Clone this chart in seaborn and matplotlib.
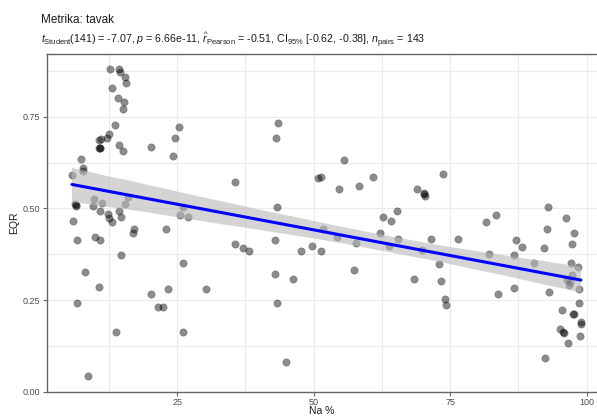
"""
plot.py

Scatter of EQR against Na % with linear fit and 95% band (ggstatsplot look)
"""

import numpy as np
import pandas as pd
import seaborn as sns
import matplotlib.pyplot as plt
from matplotlib.collections import PolyCollection
from matplotlib.ticker import MultipleLocator


# DATA
na_pct = [
    12.75, 14.34, 14.47, 15.44, 15.68, 13.06, 14.21, 15.31, 15.02, 13.61,
    12.51, 12.20, 10.99, 10.68, 10.68, 10.86, 14.34, 15.02, 20.20, 25.27,
    24.60, 24.29, 7.44, 7.75, 7.80, 5.73, 9.76, 9.63, 11.28, 6.28,
    6.47, 15.49, 15.93, 10.86, 12.33, 14.34, 14.65, 12.45, 13.11, 5.97,
    25.51, 27.03, 26.12, 17.09, 16.90, 22.89, 6.70, 10.00, 10.86, 14.76,
    8.11, 10.62, 6.70, 20.26, 23.32, 21.43, 22.45, 26.06, 30.22, 13.74,
    26.06, 8.66, 43.52, 43.10, 35.64, 43.22, 55.49, 50.84, 51.39, 54.58,
    58.30, 60.81, 62.69, 64.21, 65.31, 51.65, 35.53, 37.00, 38.10, 42.86,
    42.86, 46.21, 43.33, 44.98, 47.67, 49.63, 51.28, 54.21, 57.80, 57.33,
    62.09, 63.85, 65.44, 73.68, 68.97, 70.26, 70.38, 92.91, 96.15, 83.33,
    81.61, 92.73, 71.54, 76.48, 69.89, 73.00, 68.37, 73.32, 74.10, 74.18,
    82.11, 83.70, 87.05, 88.15, 86.74, 86.74, 90.35, 92.18, 97.67, 97.31,
    97.18, 98.41, 97.25, 96.94, 96.76, 96.39, 98.64, 93.15, 98.53, 95.53,
    97.55, 97.73, 98.90, 98.96, 95.05, 95.60, 95.84, 98.72, 96.52, 92.36,
    10.80, 6.40, 70.30,
]
eqr = [
    0.881, 0.881, 0.872, 0.857, 0.841, 0.827, 0.801, 0.791, 0.771, 0.727,
    0.702, 0.691, 0.688, 0.686, 0.665, 0.665, 0.672, 0.656, 0.666, 0.722,
    0.692, 0.642, 0.635, 0.611, 0.602, 0.592, 0.526, 0.507, 0.516, 0.512,
    0.507, 0.512, 0.532, 0.493, 0.486, 0.493, 0.477, 0.473, 0.463, 0.466,
    0.483, 0.477, 0.504, 0.444, 0.432, 0.444, 0.413, 0.423, 0.413, 0.373,
    0.327, 0.286, 0.241, 0.267, 0.281, 0.231, 0.231, 0.351, 0.281, 0.162,
    0.162, 0.043, 0.732, 0.692, 0.572, 0.503, 0.632, 0.583, 0.585, 0.553,
    0.562, 0.586, 0.477, 0.466, 0.493, 0.445, 0.403, 0.393, 0.383, 0.413,
    0.322, 0.307, 0.241, 0.082, 0.383, 0.397, 0.383, 0.423, 0.406, 0.331,
    0.433, 0.398, 0.416, 0.595, 0.553, 0.542, 0.535, 0.503, 0.473, 0.483,
    0.463, 0.444, 0.416, 0.416, 0.386, 0.347, 0.307, 0.301, 0.252, 0.237,
    0.376, 0.267, 0.413, 0.396, 0.373, 0.282, 0.351, 0.393, 0.433, 0.403,
    0.351, 0.341, 0.317, 0.300, 0.291, 0.305, 0.281, 0.271, 0.241, 0.222,
    0.211, 0.211, 0.189, 0.186, 0.172, 0.162, 0.161, 0.152, 0.132, 0.092,
    0.665, 0.508, 0.540,
]
x_ticks = [25, 50, 75, 100]
y_ticks = [0.00, 0.25, 0.50, 0.75]
y_tick_labels = ["0.00", "0.25", "0.50", "0.75"]

title = "Metrika: tavak"
subtitle = (
    r"$t_{\mathrm{Student}}$(141) = -7.07, $p$ = 6.66e-11, "
    r"$\widehat{r}_{\mathrm{Pearson}}$ = -0.51, CI$_{95\%}$ [-0.62, -0.38], "
    r"$n_{\mathrm{pairs}}$ = 143"
)

df = pd.DataFrame({"Na %": na_pct, "EQR": eqr})


sns.set_theme(style="white")
plt.rcParams["font.family"] = ["Liberation Sans", "DejaVu Sans"]
plt.rcParams["mathtext.fontset"] = "custom"
plt.rcParams["mathtext.rm"] = "Liberation Sans"
plt.rcParams["mathtext.it"] = "Liberation Sans:italic"

fig = plt.figure(figsize=(5.97, 4.16), dpi=100)
ax = fig.add_axes([0.0782, 0.0584, 0.9218, 0.8118])

# points
sns.scatterplot(
    data=df, x="Na %", y="EQR", ax=ax,
    color="black", alpha=0.45, s=28, edgecolor="#222222", linewidth=0.4,
    zorder=3,
)

# linear fit + 95% band
sns.regplot(
    data=df, x="Na %", y="EQR", ax=ax, scatter=False, ci=95, seed=1,
    color="#0000ff", line_kws={"linewidth": 2.2, "zorder": 5},
)
for coll in ax.collections:
    if isinstance(coll, PolyCollection):
        coll.set_facecolor("#b8b8b8")
        coll.set_alpha(0.6)
        coll.set_edgecolor("none")
        coll.set_zorder(4)

ax.set_xlim(1.1, 101.9)
ax.set_ylim(0, 0.921)
ax.set_xticks(x_ticks)
ax.set_yticks(y_ticks)
ax.set_yticklabels(y_tick_labels)
ax.xaxis.set_minor_locator(MultipleLocator(12.5))
ax.yaxis.set_minor_locator(MultipleLocator(0.125))
ax.grid(True, which="both", color="#ebebeb", linewidth=0.8)
ax.set_axisbelow(True)

for side in ["left", "bottom", "top"]:
    ax.spines[side].set_color("#666666")
    ax.spines[side].set_linewidth(1.0)
ax.spines["right"].set_visible(False)

ax.tick_params(axis="both", which="major", length=3, width=0.8, color="#666666",
               labelsize=6.5, labelcolor="#4d4d4d", pad=1.5, bottom=True, left=True)
ax.tick_params(axis="both", which="minor", length=0)

ax.set_xlabel("Na %", fontsize=7.5, color="#1a1a1a", labelpad=-1)
ax.set_ylabel("EQR", fontsize=7.5, color="#1a1a1a", labelpad=3)

fig.text(0.069, 0.953, title, fontsize=8.5, color="#1a1a1a", va="center")
fig.text(0.069, 0.903, subtitle, fontsize=7.7, color="#1a1a1a", va="center")

fig.savefig("out.png", dpi=100)
